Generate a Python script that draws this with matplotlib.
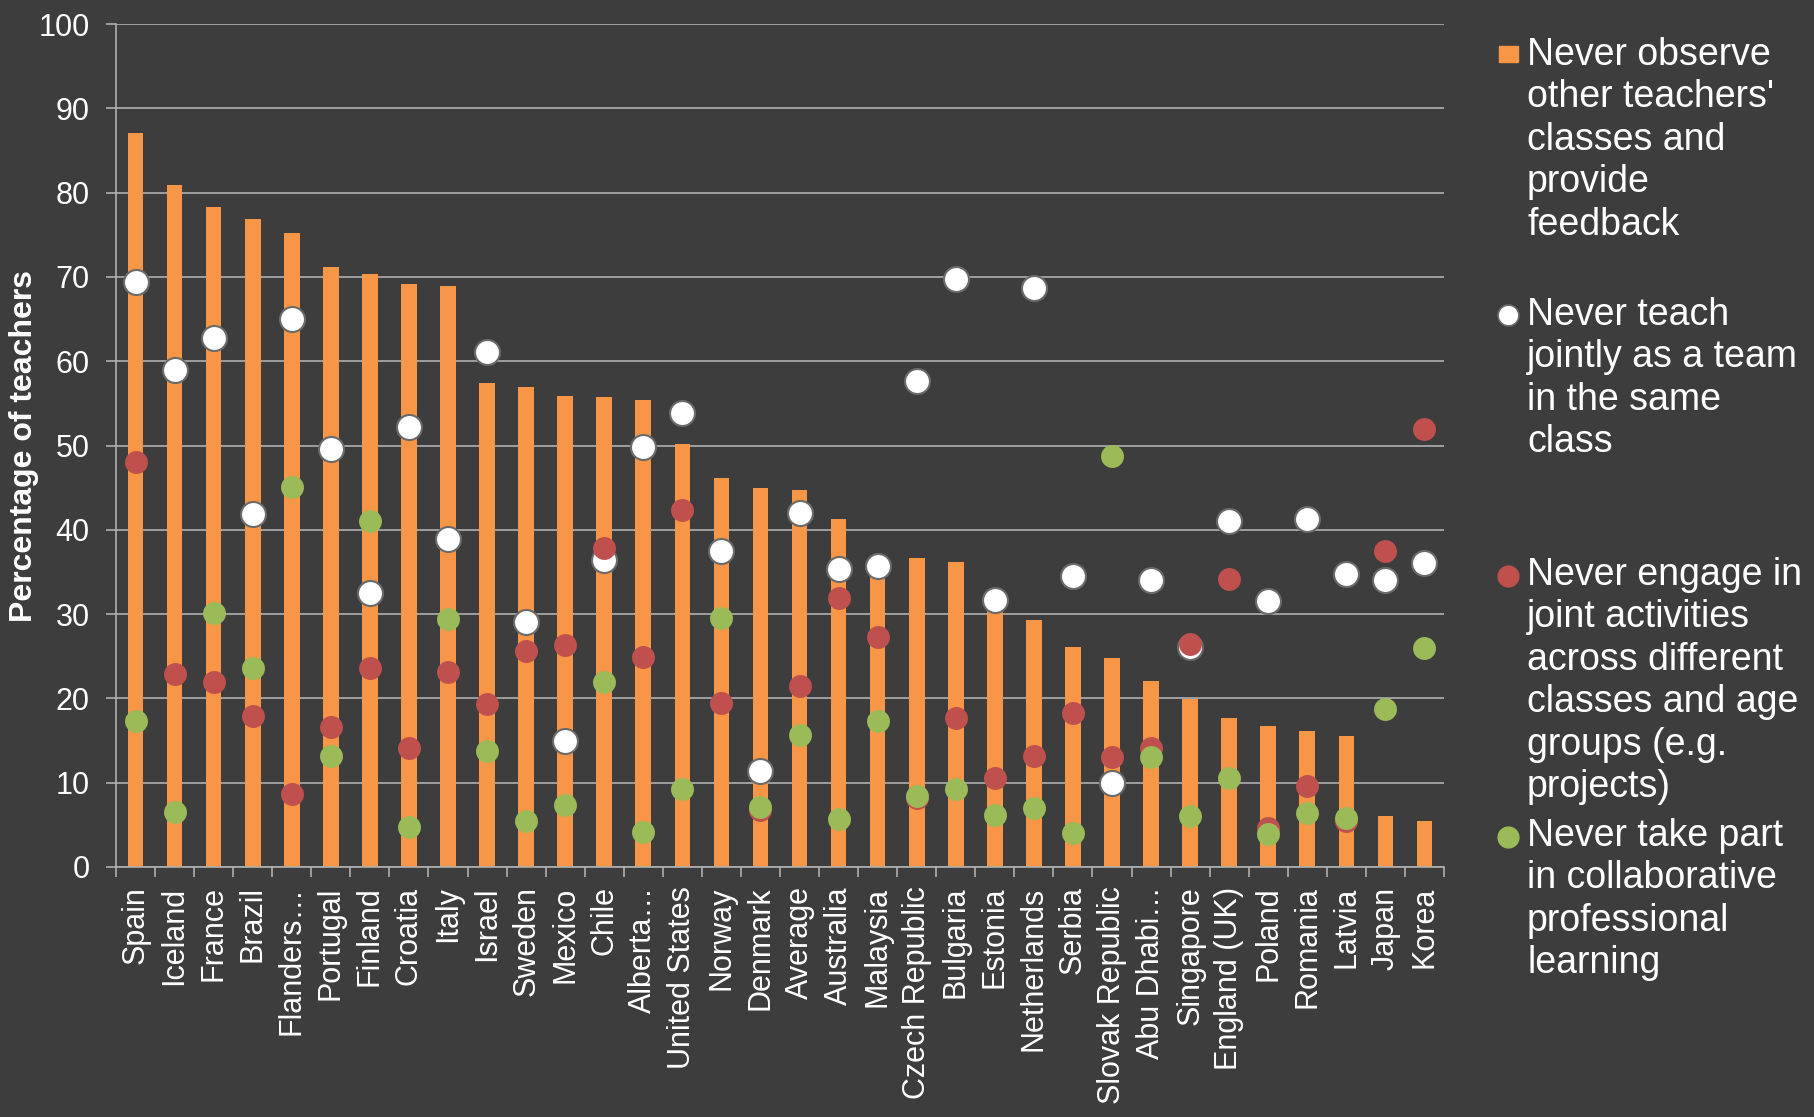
import matplotlib
matplotlib.use("Agg")
import numpy as np
from matplotlib import pyplot as plt
from matplotlib.lines import Line2D
from matplotlib.patches import Rectangle

plt.rcParams['font.family'] = ['Liberation Sans', 'DejaVu Sans']

countries = ["Spain", "Iceland", "France", "Brazil", "Flanders…", "Portugal", "Finland",
             "Croatia", "Italy", "Israel", "Sweden", "Mexico", "Chile", "Alberta…",
             "United States", "Norway", "Denmark", "Average", "Australia", "Malaysia",
             "Czech Republic", "Bulgaria", "Estonia", "Netherlands", "Serbia",
             "Slovak Republic", "Abu Dhabi…", "Singapore", "England (UK)", "Poland",
             "Romania", "Latvia", "Japan", "Korea"]

# never observe other teachers' classes and provide feedback (bars)
never_observe = [87.1, 80.9, 78.3, 76.9, 75.2, 71.2, 70.3, 69.1, 68.9, 57.4, 56.9, 55.9,
                 55.7, 55.4, 50.2, 46.2, 44.9, 44.7, 41.3, 34.5, 36.7, 36.2, 31.0, 29.3,
                 26.1, 24.8, 22.1, 19.9, 17.7, 16.7, 16.1, 15.5, 6.0, 5.4]
# never teach jointly as a team in the same class (white dots)
team_teach = [69.4, 58.9, 62.8, 41.9, 65.0, 49.6, 32.5, 52.2, 38.9, 61.1, 29.1, 14.9,
              36.4, 49.8, 53.8, 37.5, 11.4, 42.0, 35.3, 35.7, 57.7, 69.7, 31.7, 68.7,
              34.5, 10.0, 34.1, 26.1, 41.0, 31.5, 41.3, 34.8, 34.0, 36.1]
# never engage in joint activities (red dots)
joint_activities = [48.1, 22.9, 22.0, 17.9, 8.7, 16.6, 23.6, 14.1, 23.1, 19.3, 25.6, 26.3,
                    37.8, 24.9, 42.3, 19.4, 6.8, 21.5, 31.9, 27.3, 8.2, 17.7, 10.6, 13.2,
                    18.3, 13.0, 14.1, 26.5, 34.2, 4.6, 9.6, 5.4, 37.5, 51.9]
# never take part in collaborative professional learning (green dots)
collab_learning = [17.3, 6.5, 30.1, 23.6, 45.1, 13.2, 41.0, 4.8, 29.4, 13.8, 5.4, 7.4,
                   21.9, 4.2, 9.3, 29.5, 7.1, 15.7, 5.7, 17.3, 8.4, 9.3, 6.2, 7.0,
                   4.0, 48.8, 13.1, 6.0, 10.5, 3.9, 6.4, 5.8, 18.8, 26.0]

legend_labels = ["Never observe\nother teachers'\nclasses and\nprovide\nfeedback",
                 "Never teach\njointly as a team\nin the same\nclass",
                 "Never engage in\njoint activities\nacross different\nclasses and age\ngroups (e.g.\nprojects)",
                 "Never take part\nin collaborative\nprofessional\nlearning"]

ORANGE = '#F79646'
RED = '#C0504D'
GREEN = '#9BBB59'
BG = '#3d3d3d'
GRID = '#b0b0b0'

W, H = 1814, 1117
fig = plt.figure(figsize=(W / 100, H / 100), dpi=100, facecolor=BG)
ax = fig.add_axes([116 / W, (H - 867) / H, 1328 / W, 843 / H])
ax.set_facecolor(BG)

x = np.arange(len(countries))
ax.bar(x, never_observe, width=0.4, color=ORANGE, zorder=2)
ax.scatter(x, team_teach, s=18 ** 2, color='white', edgecolors='#6a6a6a', linewidths=1.5, zorder=3)
ax.scatter(x, joint_activities, s=16.5 ** 2, color=RED, linewidths=0, zorder=4)
ax.scatter(x, collab_learning, s=16.5 ** 2, color=GREEN, linewidths=0, zorder=5)

ax.set_xlim(-0.5, len(countries) - 0.5)
ax.set_ylim(0, 100)
ax.set_yticks(np.arange(0, 101, 10))
ax.yaxis.grid(True, color=GRID, linewidth=1.2)
ax.set_axisbelow(True)

ax.set_xticks(x)
ax.set_xticklabels(countries, rotation=90, ha='center', va='top')
ax.set_xticks(np.arange(-0.5, len(countries)), minor=True)
ax.tick_params(axis='x', which='major', length=0, pad=14, labelsize=22, labelcolor='white')
ax.tick_params(axis='x', which='minor', length=7, width=1.2, color=GRID)
ax.tick_params(axis='y', length=7, width=1.2, color=GRID, pad=12, labelsize=22, labelcolor='white')

for side in ['top', 'right']:
    ax.spines[side].set_visible(False)
for side in ['left', 'bottom']:
    ax.spines[side].set_color(GRID)
    ax.spines[side].set_linewidth(1.2)

ax.set_ylabel("Percentage of teachers", fontsize=23, fontweight='bold', color='white', va='center')
ax.yaxis.set_label_coords(-0.069, 0.5)

# legend drawn by hand: Excel spreads the entries evenly down the right side
text_x = 1527 / W
mark_x = 1508 / W
tops = [37, 297, 557, 818]
fig.add_artist(Rectangle((1499 / W, 1 - 62 / H), 19 / W, 16 / H, transform=fig.transFigure,
                         color=ORANGE))
fig.add_artist(Line2D([mark_x], [1 - 315 / H], transform=fig.transFigure, marker='o', ms=15,
                      mfc='white', mec='#6a6a6a', mew=1.2, ls='none'))
fig.add_artist(Line2D([mark_x], [1 - 576 / H], transform=fig.transFigure, marker='o', ms=15,
                      mfc=RED, mec=RED, ls='none'))
fig.add_artist(Line2D([mark_x], [1 - 837 / H], transform=fig.transFigure, marker='o', ms=15,
                      mfc=GREEN, mec=GREEN, ls='none'))
for label, t in zip(legend_labels, tops):
    fig.text(text_x, 1 - t / H, label, fontsize=27, color='white', va='top', ha='left',
             linespacing=1.23)

plt.savefig('out.png', dpi=100, facecolor=BG)
